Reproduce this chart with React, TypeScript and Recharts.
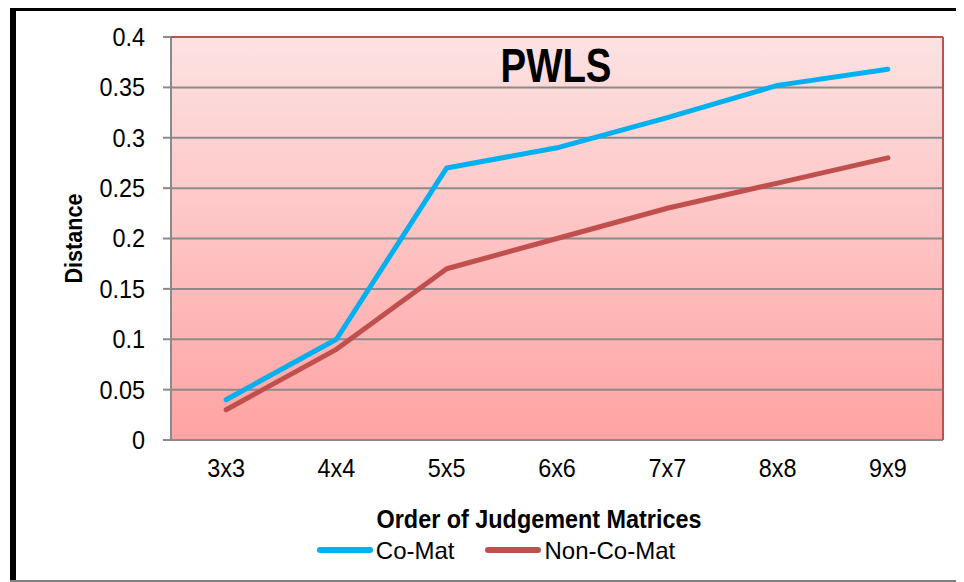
import React from 'react';
import { LineChart, Line, XAxis, YAxis, CartesianGrid, ReferenceLine, Legend } from 'recharts';

const categories = ['3x3', '4x4', '5x5', '6x6', '7x7', '8x8', '9x9'];
const coMat = [0.04, 0.1, 0.27, 0.29, 0.32, 0.352, 0.368];
const nonCoMat = [0.03, 0.09, 0.17, 0.2, 0.23, 0.255, 0.28];
const yTicks = [0, 0.05, 0.1, 0.15, 0.2, 0.25, 0.3, 0.35, 0.4];
const yTickLabels = ['0', '0.05', '0.1', '0.15', '0.2', '0.25', '0.3', '0.35', '0.4'];
const boundaryTicks = [0, 1, 2, 3, 4, 5, 6, 7];
const seriesNames = ['Co-Mat', 'Non-Co-Mat'];
const title = 'PWLS';
const xTitle = 'Order of Judgement Matrices';
const yTitle = 'Distance';

const data = categories.map((name, i) => ({
  name,
  pos: i + 0.5,
  coMat: coMat[i],
  nonCoMat: nonCoMat[i],
}));

const FONT = '"Liberation Sans", Arial, sans-serif';
const GRID = '#8a8a8a';
const SX = 0.9;

const LegendContent = (props: any) => {
  const payload = props.payload || [];
  return (
    <div
      style={{
        display: 'flex',
        justifyContent: 'center',
        alignItems: 'center',
        paddingLeft: 19,
        height: 30,
        fontFamily: FONT,
        fontSize: 24,
        lineHeight: '30px',
        color: '#000',
      }}
    >
      {payload.map((p: any, i: number) => (
        <div key={i} style={{ display: 'flex', alignItems: 'center', marginLeft: i === 0 ? 0 : 30 }}>
          <svg width={58} height={10} style={{ marginRight: 2, marginTop: -2 }}>
            <line x1={4} y1={5} x2={54} y2={5} stroke={p.color} strokeWidth={6} strokeLinecap="round" />
          </svg>
          <span>{p.value}</span>
        </div>
      ))}
    </div>
  );
};

const YTick = (props: any) => {
  const { x, y, payload } = props;
  const v = payload.value;
  const label = yTickLabels[yTicks.indexOf(v)] ?? String(v);
  return (
    <text
      transform={`translate(${x}, ${y}) scale(${SX}, 1)`}
      textAnchor="end"
      dominantBaseline="central"
      fontFamily={FONT}
      fontSize={26}
      fill="#000"
    >
      {label}
    </text>
  );
};

const XTick = (props: any) => {
  const { x, y, payload } = props;
  return (
    <text
      transform={`translate(${x}, ${y}) scale(${SX}, 1)`}
      textAnchor="middle"
      dy="0.71em"
      fontFamily={FONT}
      fontSize={26}
      fill="#000"
    >
      {payload.value}
    </text>
  );
};

const YLabel = (props: any) => {
  const vb = props.viewBox || {};
  const cx = vb.x + 66;
  const cy = vb.y + vb.height / 2;
  return (
    <text
      transform={`translate(${cx}, ${cy}) rotate(-90) scale(${SX}, 1)`}
      textAnchor="middle"
      dominantBaseline="central"
      fontFamily={FONT}
      fontWeight="bold"
      fontSize={24}
      fill="#000"
    >
      {yTitle}
    </text>
  );
};

const XLabel = (props: any) => {
  const vb = props.viewBox || {};
  const cx = vb.x + vb.width / 2 - 18;
  const cy = vb.y + vb.height;
  return (
    <text
      transform={`translate(${cx}, ${cy}) scale(${SX}, 1)`}
      textAnchor="middle"
      fontFamily={FONT}
      fontWeight="bold"
      fontSize={26}
      fill="#000"
    >
      {xTitle}
    </text>
  );
};

export default function App() {
  return (
    <div style={{ position: 'relative', width: 956, height: 574 }}>
      <div style={{ position: 'absolute', left: 2, top: -1, width: 954, height: 4, background: '#000' }} />
      <div style={{ position: 'absolute', left: 2, top: -1, width: 6, height: 575, background: '#000' }} />
      <div style={{ position: 'absolute', left: 2, top: 572, width: 954, height: 2, background: '#808080' }} />
      <LineChart
        width={956}
        height={574}
        data={data}
        margin={{ top: 29, right: 21, left: 0, bottom: 16 }}
        style={{ fontFamily: FONT }}
      >
        <defs>
          <linearGradient id="plotBg" x1="0" y1="0" x2="0" y2="1">
            <stop offset="0%" stopColor="#fde2e2" />
            <stop offset="100%" stopColor="#ffa3a3" />
          </linearGradient>
        </defs>
        <CartesianGrid
          xAxisId="num"
          stroke={GRID}
          strokeWidth={2}
          fill="url(#plotBg)"
          fillOpacity={1}
        />
        <XAxis
          xAxisId="num"
          type="number"
          dataKey="pos"
          domain={[0, 7]}
          ticks={boundaryTicks}
          tick={false}
          tickSize={8}
          tickLine={{ stroke: GRID, strokeWidth: 2 }}
          axisLine={false}
          height={8}
        />
        <XAxis
          xAxisId="cat"
          type="category"
          dataKey="name"
          scale="band"
          axisLine={false}
          tickLine={false}
          tickSize={0}
          tickMargin={19}
          height={88}
          tick={<XTick />}
          label={<XLabel />}
        />
        <YAxis
          type="number"
          domain={[0, 0.4]}
          ticks={yTicks}
          width={163}
          tickSize={8}
          tickMargin={18}
          axisLine={false}
          tickLine={{ stroke: GRID, strokeWidth: 2 }}
          tick={<YTick />}
          label={<YLabel />}
        />
        <ReferenceLine y={0.4} xAxisId="num" stroke="#c0504d" strokeWidth={2} />
        <ReferenceLine x={7} xAxisId="num" stroke="#c0504d" strokeWidth={2} />
        <Line
          xAxisId="num"
          type="linear"
          dataKey="coMat"
          name={seriesNames[0]}
          stroke="#00b0f0"
          strokeWidth={5}
          strokeLinecap="round"
          strokeLinejoin="round"
          dot={false}
          activeDot={false}
          isAnimationActive={false}
        />
        <Line
          xAxisId="num"
          type="linear"
          dataKey="nonCoMat"
          name={seriesNames[1]}
          stroke="#c0504d"
          strokeWidth={5}
          strokeLinecap="round"
          strokeLinejoin="round"
          dot={false}
          activeDot={false}
          isAnimationActive={false}
        />
        <text
          transform="translate(548, 74) scale(0.8, 1)"
          x={0}
          y={0}
          textAnchor="middle"
          fontFamily={FONT}
          fontWeight="bold"
          fontSize={48}
          fill="#000"
        >
          {title}
        </text>
        <Legend
          verticalAlign="bottom"
          align="center"
          wrapperStyle={{ top: 528, left: 0, width: 956, height: 30 }}
          content={<LegendContent />}
        />
      </LineChart>
    </div>
  );
}
